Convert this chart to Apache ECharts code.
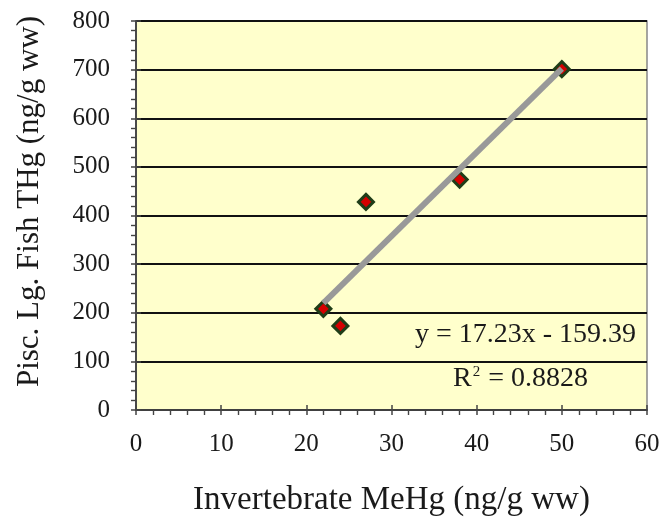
<!DOCTYPE html>
<html><head><meta charset="utf-8">
<script src="https://cdn.jsdelivr.net/npm/echarts@6/dist/echarts.min.js"></script>
<style>html,body{margin:0;padding:0;background:#fff}#c{width:664px;height:518px}</style>
</head><body><div id="c"></div>
<script>
const invertebrateMeHg = [22, 24, 27, 38, 50];
const fishTHg = [208, 173, 428, 474, 701];
const trendX = [22, 50];
const trendY = [219.7, 702.1];
const xTicks = [0, 10, 20, 30, 40, 50, 60];
const yTicks = [0, 100, 200, 300, 400, 500, 600, 700, 800];
const eqText = 'y = 17.23x - 159.39';
const r2Value = '0.8828';

const font = 'Liberation Serif';
const chart = echarts.init(document.getElementById('c'));
const baseX = {
  type: 'value', min: xTicks[0], max: xTicks[xTicks.length-1], interval: 10,
  axisLine: {show: true, lineStyle: {color: '#444', width: 1.5}},
  splitLine: {show: false},
  minorTick: {show: true, splitNumber: 5, length: 5, lineStyle: {color: '#444', width: 1.2}},
};
const baseY = {
  type: 'value', min: yTicks[0], max: yTicks[yTicks.length-1], interval: 100,
  axisLine: {show: true, lineStyle: {color: '#444', width: 1.5}},
  minorTick: {show: true, splitNumber: 5, length: 5, lineStyle: {color: '#444', width: 1.2}},
};
chart.setOption({
  animation: false,
  backgroundColor: '#fff',
  grid: {left: 136, right: 17, top: 21, bottom: 108, containLabel: false, outerBoundsMode: 'none',
         show: true, backgroundColor: '#FFFFCC', borderColor: '#888', borderWidth: 1.5},
  xAxis: [
    Object.assign({}, baseX, {
      name: 'Invertebrate MeHg (ng/g ww)', nameLocation: 'middle', nameGap: 74,
      nameTextStyle: {fontFamily: font, fontSize: 33, color: '#1a1a1a'},
      axisLabel: {fontFamily: font, fontSize: 25, color: '#1a1a1a', margin: 22},
      axisTick: {show: true, length: 5, lineStyle: {color: '#444', width: 1.5}},
    }),
    Object.assign({}, baseX, {
      position: 'bottom', axisLabel: {show: false},
      axisTick: {show: true, inside: true, length: 5, lineStyle: {color: '#444', width: 1.5}},
      minorTick: {show: true, splitNumber: 5, length: -5, lineStyle: {color: '#444', width: 1.2}},
    })
  ],
  yAxis: [
    Object.assign({}, baseY, {
      name: 'Pisc. Lg. Fish THg (ng/g ww)', nameLocation: 'middle', nameGap: 91,
      nameTextStyle: {fontFamily: font, fontSize: 31, color: '#1a1a1a', padding: [0, 0, 0, 28]},
      axisLabel: {fontFamily: font, fontSize: 25, color: '#1a1a1a', margin: 26},
      axisTick: {show: true, length: 5, lineStyle: {color: '#444', width: 1.5}},
      splitLine: {show: true, lineStyle: {color: '#111', width: 2}},
    }),
    Object.assign({}, baseY, {
      position: 'left', axisLabel: {show: false}, splitLine: {show: false},
      axisTick: {show: true, inside: true, length: 5, lineStyle: {color: '#444', width: 1.5}},
      minorTick: {show: true, splitNumber: 5, length: -5, lineStyle: {color: '#444', width: 1.2}},
    })
  ],
  series: [
    {
      type: 'scatter', xAxisIndex: 0, yAxisIndex: 0, z: 3,
      data: invertebrateMeHg.map((x, i) => [x, fishTHg[i]]),
      symbol: 'diamond', symbolSize: 15,
      itemStyle: {color: '#d40000', borderColor: '#1f3d18', borderWidth: 3, opacity: 1},
    },
    {
      type: 'line', xAxisIndex: 0, yAxisIndex: 0, z: 4,
      data: trendX.map((x, i) => [x, trendY[i]]),
      showSymbol: false, symbol: 'none',
      lineStyle: {color: '#999', width: 6},
    }
  ],
  graphic: [
    {type: 'text', left: 415, top: 321, z: 10,
     style: {text: eqText, font: '28px "Liberation Serif"', fill: '#1a1a1a'}},
    {type: 'text', left: 453, top: 365, z: 10,
     style: {text: '{a|R}{s|2}{a| = ' + r2Value + '}', fill: '#1a1a1a',
       rich: {a: {fontFamily: font, fontSize: 28, color: '#1a1a1a'},
              s: {fontFamily: font, fontSize: 15, color: '#1a1a1a', verticalAlign: 'top', padding: [0,1,12,1]}}}}
  ]
});
</script></body></html>
